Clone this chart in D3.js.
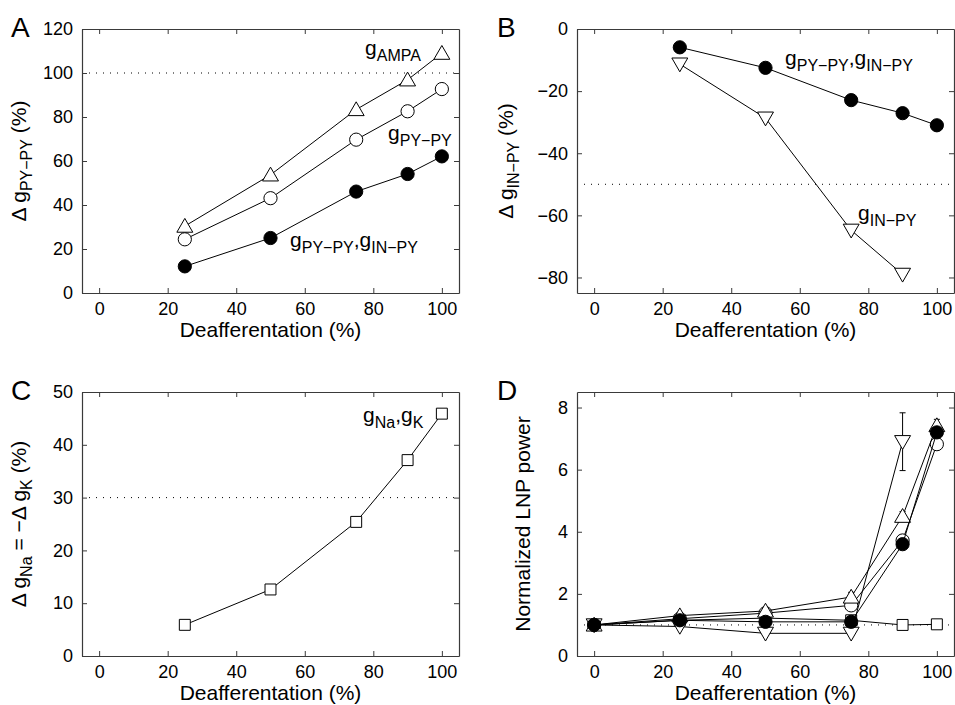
<!DOCTYPE html>
<html>
<head>
<meta charset="utf-8">
<script src="https://cdn.jsdelivr.net/npm/d3@7"></script>
<style>
  body { margin: 0; background: #fff; }
  svg { display: block; font-family: "Liberation Sans", Arial, Helvetica, sans-serif; }
  .tick-label { font-size: 18px; fill: #000; }
  .axis-label { font-size: 21px; fill: #000; }
  .panel-letter { font-size: 28px; fill: #000; }
  .note { font-size: 21px; fill: #000; }
</style>
</head>
<body>
<svg id="fig" width="955" height="705"></svg>
<script>
// deafferentation levels
const xA = [25, 50, 75, 90, 100]
const xD = [0, 25, 50, 75, 90, 100]
const xDdown = [0, 25, 50, 75, 90]

// panel A: change of g_PY-PY (%)
const aAMPA = [30.4, 53.7, 83.4, 96.9, 109]
const aPYPY = [24.4, 43.1, 69.7, 82.6, 92.7]
const aBoth = [12.1, 25, 46.1, 54.1, 62.1]

// panel B: change of g_IN-PY (%)
const bBoth = [-5.9, -12.5, -22.9, -27.1, -31]
const bINPY = [-11.3, -28.7, -64.8, -79]

// panel C: change of g_Na = -change of g_K (%)
const cNaK = [5.9, 12.6, 25.4, 37.1, 45.9]

// panel D: normalized LNP power, means and error
const dSquare = [1, 1.15, 1.22, 1.15, 1.0, 1.02]
const dSquareErr = [0, 0.03, 0.03, 0.03, 0.03, 0.03]
const dDown = [1, 0.95, 0.73, 0.73, 6.9]
const dDownErr = [0, 0.05, 0.05, 0.05, 0.93]
const dOpen = [1, 1.2, 1.38, 1.63, 3.72, 6.82]
const dOpenErr = [0, 0.08, 0.08, 0.1, 0.12, 0.18]
const dUp = [1, 1.3, 1.45, 1.9, 4.5, 7.42]
const dUpErr = [0, 0.1, 0.1, 0.15, 0.15, 0.2]
const dFilled = [1, 1.15, 1.1, 1.1, 3.6, 7.2]
const dFilledErr = [0, 0.05, 0.05, 0.05, 0.1, 0.1]

const xTicks = [0, 20, 40, 60, 80, 100]
const yTicksA = [0, 20, 40, 60, 80, 100, 120]
const yTicksB = [-80, -60, -40, -20, 0]
const yTicksC = [0, 10, 20, 30, 40, 50]
const yTicksD = [0, 2, 4, 6, 8]

const svg = d3.select('#fig')
const axisColor = '#3a3a3a'

function makePanel({left, top, width, height, yDomain, yTicks, letter, refLine, yLabel, yLabelX}) {
    const g = svg.append('g').attr('transform', `translate(${left}, ${top})`)
    const x = d3.scaleLinear().domain([-5, 105]).range([0, width])
    const y = d3.scaleLinear().domain(yDomain).range([height, 0])

    // dotted reference line
    g.append('line')
    .attr('x1', 0).attr('x2', width)
    .attr('y1', y(refLine)).attr('y2', y(refLine))
    .attr('stroke', '#000')
    .attr('stroke-width', 1)
    .attr('stroke-dasharray', '1,6')

    // box with inward ticks on all four sides
    const axes = [
        {ax: d3.axisBottom(x).tickValues(xTicks).tickSizeInner(-5), tr: `translate(0, ${height})`, labels: true},
        {ax: d3.axisTop(x).tickValues(xTicks).tickSizeInner(-5), tr: 'translate(0, 0)', labels: false},
        {ax: d3.axisLeft(y).tickValues(yTicks).tickSizeInner(-5), tr: 'translate(0, 0)', labels: true},
        {ax: d3.axisRight(y).tickValues(yTicks).tickSizeInner(-5), tr: `translate(${width}, 0)`, labels: false}
    ]
    axes.forEach(a => {
        const ag = g.append('g').attr('transform', a.tr)
        .call(a.ax.tickSizeOuter(0).tickPadding(9).tickFormat(d3.format('')))
        ag.select('.domain').attr('stroke', axisColor).attr('stroke-width', 1.2)
        ag.selectAll('.tick line').attr('stroke', axisColor)
        ag.selectAll('.tick text')
        .attr('class', 'tick-label')
        .attr('font-family', null).attr('font-size', null)
        if (!a.labels) ag.selectAll('.tick text').remove()
    })

    // x label
    g.append('text')
    .attr('class', 'axis-label')
    .attr('x', width / 2)
    .attr('y', height + 44)
    .attr('text-anchor', 'middle')
    .text('Deafferentation (%)')

    // y label (rotated, parts may be subscripts)
    const yl = g.append('text')
    .attr('class', 'axis-label')
    .attr('transform', `translate(${yLabelX - left}, ${height / 2}) rotate(-90)`)
    .attr('text-anchor', 'middle')
    addParts(yl, yLabel, 16, 6)

    // panel letter
    svg.append('text')
    .attr('class', 'panel-letter')
    .attr('x', left - (letter === 'A' || letter === 'C' ? 71 : 80))
    .attr('y', top + 8)
    .text(letter)

    return {g, x, y}
}

function addParts(textSel, parts, subSize, subShift) {
    let shifted = false
    parts.forEach(([txt, sub]) => {
        const t = textSel.append('tspan').text(txt)
        if (sub && !shifted) { t.attr('dy', subShift); shifted = true }
        if (!sub && shifted) { t.attr('dy', -subShift); shifted = false }
        if (sub) t.attr('font-size', subSize)
    })
}

function note(p, xv, yv, parts) {
    const t = p.g.append('text')
    .attr('class', 'note')
    .attr('x', p.x(xv))
    .attr('y', p.y(yv))
    addParts(t, parts, 16, 6)
}

const symbols = {
    up: d3.symbol().type(d3.symbolTriangle).size(110),
    down: d3.symbol().type(d3.symbolTriangle).size(110),
    square: d3.symbol().type(d3.symbolSquare).size(120)
}

function series(p, xs, ys, marker, filled, errs) {
    const pts = xs.map((v, i) => ({x: v, y: ys[i], e: errs ? errs[i] : 0}))
    p.g.append('path')
    .datum(pts)
    .attr('fill', 'none')
    .attr('stroke', '#000')
    .attr('stroke-width', 1)
    .attr('d', d3.line().x(d => p.x(d.x)).y(d => p.y(d.y)))

    if (errs) {
        const eb = p.g.append('g').selectAll('g')
        .data(pts.filter(d => d.e > 0))
        .enter().append('g')
        .attr('stroke', '#000').attr('stroke-width', 1)
        eb.append('line')
        .attr('x1', d => p.x(d.x)).attr('x2', d => p.x(d.x))
        .attr('y1', d => p.y(d.y - d.e)).attr('y2', d => p.y(d.y + d.e))
        eb.append('line')
        .attr('x1', d => p.x(d.x) - 3).attr('x2', d => p.x(d.x) + 3)
        .attr('y1', d => p.y(d.y - d.e)).attr('y2', d => p.y(d.y - d.e))
        eb.append('line')
        .attr('x1', d => p.x(d.x) - 3).attr('x2', d => p.x(d.x) + 3)
        .attr('y1', d => p.y(d.y + d.e)).attr('y2', d => p.y(d.y + d.e))
    }

    const m = p.g.append('g').selectAll('.mk')
    .data(pts)
    .enter()
    if (marker === 'circle') {
        m.append('circle')
        .attr('cx', d => p.x(d.x)).attr('cy', d => p.y(d.y))
        .attr('r', 6.6)
        .attr('fill', filled ? '#000' : '#fff')
        .attr('stroke', '#000').attr('stroke-width', 1)
    } else {
        m.append('path')
        .attr('d', symbols[marker])
        .attr('transform', d => `translate(${p.x(d.x)}, ${p.y(d.y) + (marker === 'up' ? 1.5 : marker === 'down' ? -1.5 : 0)})` + (marker === 'down' ? ' rotate(180)' : ''))
        .attr('fill', '#fff')
        .attr('stroke', '#000').attr('stroke-width', 1)
    }
}

// ---- panel A
const pA = makePanel({left: 82, top: 29, width: 377, height: 264, yDomain: [0, 120], yTicks: yTicksA,
    letter: 'A', refLine: 100, yLabelX: 26,
    yLabel: [['Δ g', false], ['PY−PY', true], [' (%)', false]]})
series(pA, xA, aAMPA, 'up', false)
series(pA, xA, aPYPY, 'circle', false)
series(pA, xA, aBoth, 'circle', true)
note(pA, 77.6, 108.2, [['g', false], ['AMPA', true]])
note(pA, 84.3, 69.5, [['g', false], ['PY−PY', true]])
note(pA, 55.7, 20.9, [['g', false], ['PY−PY', true], [',g', false], ['IN−PY', true]])

// ---- panel B
const pB = makePanel({left: 577, top: 29, width: 377, height: 264, yDomain: [-85, 0], yTicks: yTicksB,
    letter: 'B', refLine: -50, yLabelX: 513,
    yLabel: [['Δ g', false], ['IN−PY', true], [' (%)', false]]})
series(pB, xA.slice(0, 4), bINPY, 'down', false)
series(pB, xA, bBoth, 'circle', true)
note(pB, 55.7, -11.6, [['g', false], ['PY−PY', true], [',g', false], ['IN−PY', true]])
note(pB, 77, -61.5, [['g', false], ['IN−PY', true]])

// ---- panel C
const pC = makePanel({left: 82, top: 392, width: 377, height: 264, yDomain: [0, 50], yTicks: yTicksC,
    letter: 'C', refLine: 30, yLabelX: 26,
    yLabel: [['Δ g', false], ['Na', true], [' = −Δ g', false], ['K', true], [' (%)', false]]})
series(pC, xA, cNaK, 'square', false)
note(pC, 77, 44.3, [['g', false], ['Na', true], [',g', false], ['K', true]])

// ---- panel D
const pD = makePanel({left: 577, top: 392, width: 377, height: 264, yDomain: [0, 8.5], yTicks: yTicksD,
    letter: 'D', refLine: 1, yLabelX: 530,
    yLabel: [['Normalized LNP power', false]]})
series(pD, xD, dSquare, 'square', false, dSquareErr)
series(pD, xDdown, dDown, 'down', false, dDownErr)
series(pD, xD, dOpen, 'circle', false, dOpenErr)
series(pD, xD, dUp, 'up', false, dUpErr)
series(pD, xD, dFilled, 'circle', true, dFilledErr)
</script>
</body>
</html>
